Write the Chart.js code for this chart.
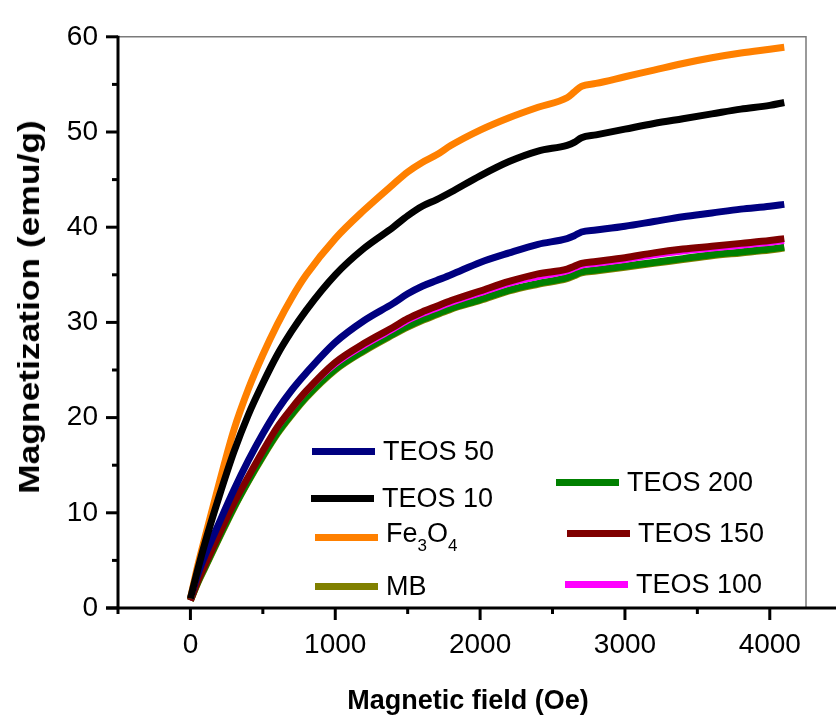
<!DOCTYPE html>
<html>
<head>
<meta charset="utf-8">
<title>Magnetization curves</title>
<script src="https://cdn.jsdelivr.net/npm/chart.js@4.4.1/dist/chart.umd.min.js"></script>
<style>
    body{ margin:0; background:#fff; }
    .wrap{ position:relative; width:836px; height:720px; font-family:"Liberation Sans", Arial, sans-serif; }
    canvas{ position:absolute; left:0; top:0; }
    .ytitle{
        position:absolute; left:29px; top:307px;
        font-weight:bold; font-size:30px; white-space:nowrap;
        transform:translate(-50%,-50%) rotate(-90deg) scaleX(1.18);
    }
    .xtitle{
        position:absolute; left:468px; top:700px;
        font-weight:bold; font-size:27px; white-space:nowrap;
        transform:translate(-50%,-50%);
    }
    .leg{ position:absolute; display:flex; align-items:center; font-size:27px; white-space:nowrap; }
    .leg .sw{ width:63px; height:7px; margin-right:8px; }
    .leg sub{ font-size:17px; vertical-align:-9px; }
</style>
</head>
<body>
<div class="wrap">
    <canvas id="mhChart" width="836" height="720"></canvas>
    <div class="ytitle">Magnetization (emu/g)</div>
    <div class="xtitle">Magnetic field (Oe)</div>
    <div id="legend"></div>
</div>

<script>
/* =========================
   DATA
========================= */

const fieldOe = [0,50,100,200,300,400,500,600,700,800,1000,1200,1400,1500,1600,1700,1800,2000,2200,2400,2600,2650,2700,2800,3000,3200,3400,3600,3800,4000,4100];

const teos10 = [1.0,4.0,6.8,11.8,16.4,20.3,23.6,26.6,29.1,31.3,35.0,37.8,40.0,41.2,42.2,42.9,43.7,45.4,46.9,48.0,48.6,48.9,49.4,49.7,50.3,50.9,51.4,51.9,52.4,52.8,53.1];
const fe3o4  = [1.0,4.4,7.4,13.2,18.7,23.0,26.6,29.8,32.6,35.0,38.8,41.8,44.5,45.8,46.8,47.6,48.6,50.2,51.5,52.6,53.6,54.2,54.8,55.1,55.8,56.5,57.2,57.8,58.3,58.7,58.9];
const teos50 = [1.0,3.5,5.5,9.0,12.4,15.5,18.3,20.8,22.9,24.7,27.9,30.2,32.0,33.0,33.8,34.4,35.0,36.3,37.3,38.2,38.8,39.1,39.5,39.7,40.1,40.6,41.1,41.5,41.9,42.2,42.4];
const teos150 = [0.8,2.8,4.5,7.8,11.0,13.8,16.5,19.0,21.0,22.8,25.8,27.8,29.5,30.4,31.1,31.7,32.3,33.3,34.3,35.1,35.6,35.9,36.2,36.4,36.8,37.3,37.7,38.0,38.3,38.6,38.8];
const teos100 = [0.8,2.7,4.4,7.6,10.8,13.6,16.2,18.7,20.7,22.5,25.4,27.4,29.1,30.0,30.7,31.3,31.9,32.9,33.9,34.6,35.2,35.5,35.8,36.0,36.4,36.9,37.3,37.6,37.9,38.2,38.4];
const teos200 = [0.8,2.7,4.3,7.5,10.6,13.4,16.0,18.4,20.4,22.2,25.1,27.1,28.8,29.6,30.3,30.9,31.5,32.4,33.4,34.1,34.7,35.0,35.3,35.5,35.9,36.3,36.7,37.1,37.4,37.7,37.9];
const mb     = [0.8,2.6,4.2,7.4,10.5,13.3,15.9,18.3,20.3,22.1,25.0,27.0,28.7,29.5,30.2,30.8,31.4,32.3,33.3,34.0,34.6,34.9,35.2,35.4,35.8,36.2,36.6,37.0,37.3,37.6,37.8];

// tick positions (every mark) and which of them get a label
const xTickValues = [-500,0,500,1000,1500,2000,2500,3000,3500,4000];
const xLabelTicks = [0,1000,2000,3000,4000];
const yTickValues = [0,5,10,15,20,25,30,35,40,45,50,55,60];
const yLabelTicks = [0,10,20,30,40,50,60];

/* =========================
   SERIES (first = drawn on top)
========================= */

const series = [
    { label:"TEOS 10",  data:teos10,  color:"#000000", width:7 },
    { label:"Fe3O4",    data:fe3o4,   color:"#FF8000", width:7 },
    { label:"TEOS 50",  data:teos50,  color:"#000080", width:7 },
    { label:"TEOS 150", data:teos150, color:"#800000", width:7 },
    { label:"TEOS 100", data:teos100, color:"#FF00FF", width:3 },
    { label:"TEOS 200", data:teos200, color:"#008000", width:7 },
    { label:"MB",       data:mb,      color:"#808000", width:7 }
];

function toPoints(arr){
    return arr.map((v,i)=>({ x:fieldOe[i], y:v }));
}

/* =========================
   LEGEND (html so text stays text)
========================= */

const legendSpots = {
    "TEOS 50":  [312,451],
    "TEOS 10":  [311,498],
    "Fe3O4":    [315,537],
    "MB":       [315,586],
    "TEOS 200": [556,482],
    "TEOS 150": [567,533],
    "TEOS 100": [565,584]
};

function buildLegend(){
    const box = document.getElementById("legend");
    series.forEach(s=>{
        const spot = legendSpots[s.label];
        const item = document.createElement("div");
        item.className = "leg";
        item.style.left = spot[0] + "px";
        item.style.top = (spot[1] - 20) + "px";
        item.style.height = "40px";
        const sw = document.createElement("div");
        sw.className = "sw";
        sw.style.background = s.color;
        const txt = document.createElement("span");
        if(s.label === "Fe3O4"){
            txt.innerHTML = "Fe<sub>3</sub>O<sub>4</sub>";
        }else{
            txt.textContent = s.label;
        }
        item.appendChild(sw);
        item.appendChild(txt);
        box.appendChild(item);
    });
}

/* =========================
   AXIS LINES, TICKS, FRAME
========================= */

const axisDecor = {
    id:"axisDecor",
    afterDatasetsDraw(chart){
        const ctx = chart.ctx;
        const a = chart.chartArea;
        const xs = chart.scales.x;
        const ys = chart.scales.y;
        ctx.save();

        // thin grey frame top + right
        ctx.strokeStyle = "#7a7a7a";
        ctx.lineWidth = 1.5;
        ctx.beginPath();
        ctx.moveTo(a.left, a.top);
        ctx.lineTo(a.right, a.top);
        ctx.lineTo(a.right, a.bottom);
        ctx.stroke();

        ctx.strokeStyle = "#000";
        ctx.lineWidth = 3;
        ctx.lineCap = "butt";

        // left + bottom axis
        ctx.beginPath();
        ctx.moveTo(a.left, a.top - 1);
        ctx.lineTo(a.left, a.bottom);
        ctx.moveTo(a.left - 12, a.bottom);
        ctx.lineTo(chart.width, a.bottom);
        ctx.stroke();

        xTickValues.forEach(v=>{
            const px = xs.getPixelForValue(v);
            const len = v % 1000 === 0 ? 12 : 6;
            ctx.beginPath();
            ctx.moveTo(px, a.bottom);
            ctx.lineTo(px, a.bottom + len);
            ctx.stroke();
        });

        yTickValues.forEach(v=>{
            const py = ys.getPixelForValue(v);
            const len = v % 10 === 0 ? 12 : 6;
            ctx.beginPath();
            ctx.moveTo(a.left, py);
            ctx.lineTo(a.left - len, py);
            ctx.stroke();
        });

        ctx.restore();
    }
};

/* =========================
   CHART
========================= */

Chart.defaults.font.family = "'Liberation Sans', Arial, sans-serif";
Chart.defaults.color = "#000";

new Chart(document.getElementById("mhChart"),{
    type:"line",
    data:{
        datasets: series.map(s=>({
            label:s.label,
            data:toPoints(s.data),
            borderColor:s.color,
            backgroundColor:s.color,
            borderWidth:s.width,
            pointRadius:0,
            cubicInterpolationMode:"monotone",
            fill:false
        }))
    },
    options:{
        responsive:false,
        animation:false,
        devicePixelRatio:1,
        layout:{ padding:{ top:24, right:30, left:0, bottom:0 } },
        plugins:{ legend:{ display:false }, tooltip:{ enabled:false } },
        scales:{
            x:{
                type:"linear",
                min:-500,
                max:4250,
                border:{ display:false },
                grid:{ display:false, drawTicks:false },
                ticks:{
                    autoSkip:false,
                    maxRotation:0,
                    minRotation:0,
                    padding:20,
                    font:{ size:28 },
                    callback:v=> xLabelTicks.includes(v) ? String(v) : ""
                },
                afterBuildTicks(scale){
                    scale.ticks = xTickValues.map(v=>({ value:v }));
                },
                afterFit(scale){ scale.height = 112; }
            },
            y:{
                type:"linear",
                min:0,
                max:60,
                border:{ display:false },
                grid:{ display:false, drawTicks:false },
                ticks:{
                    autoSkip:false,
                    padding:20,
                    font:{ size:28 },
                    callback:v=> yLabelTicks.includes(v) ? String(v) : ""
                },
                afterBuildTicks(scale){
                    scale.ticks = yTickValues.map(v=>({ value:v }));
                },
                afterFit(scale){ scale.width = 118; }
            }
        }
    },
    plugins:[axisDecor]
});

buildLegend();
</script>
</body>
</html>
